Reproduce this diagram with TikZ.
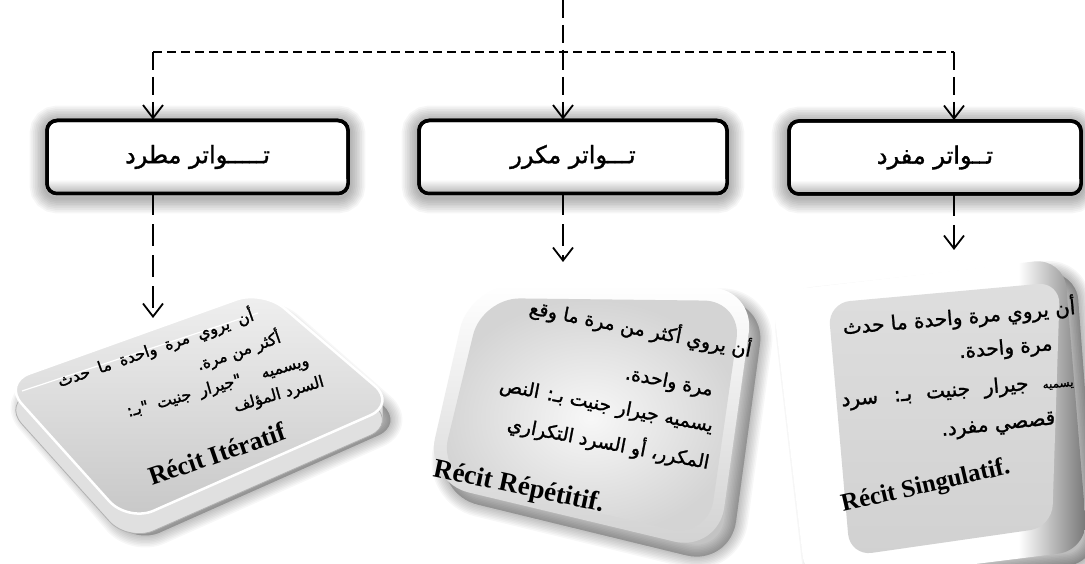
\documentclass[tikz,border=0pt]{standalone}
\usepackage{fontspec}
\setmainfont{Liberation Serif}
\newfontfamily\arabicfont[Script=Arabic]{DejaVu Sans}
\newfontfamily\arabicbold[Script=Arabic,FakeBold=1.4]{DejaVu Sans}
\TeXXeTstate=1
\usetikzlibrary{arrows.meta}
\newcommand\RL[1]{\beginR #1\endR}
\pgfdeclarehorizontalshading{bevelR}{100bp}{color(0bp)=(white); color(64bp)=(white); color(75bp)=(black!55); color(100bp)=(black!55)}
\newcommand\blurfill[3]{%
  \foreach \k in {1,...,8}{%
    \pgfmathsetmacro\lw{\k*3}%
    \filldraw[black,opacity=#2,line width=\lw pt,line join=round,rounded corners=#1] #3 -- cycle;}}
\tikzset{
  hbox/.style={draw=black, line width=3.5pt, rounded corners=10pt, fill=white,
    minimum height=73pt, inner sep=0pt, outer sep=0pt,
    font=\arabicbold\fontsize{24}{26}\selectfont},
  dashh/.style={line width=2pt, dash pattern=on 9pt off 5pt},
  dashv/.style={line width=2pt, dash pattern=on 18pt off 7pt},
  dashd/.style={line width=2pt, dash pattern=on 22pt off 9pt},
  tip/.style={-{Straight Barb[length=13pt,width=20pt,line width=1.8pt]}},
  artxt/.style={inner sep=0pt, font=\arabicbold\fontsize{#1}{#1}\selectfont},
  lattxt/.style={inner sep=0pt, font=\bfseries\fontsize{#1}{#1}\selectfont},
}
\begin{document}
\begin{tikzpicture}[x=1pt,y=-1pt]
\useasboundingbox (0,0) rectangle (1085,564);
\fill[white] (0,0) rectangle (1085,564);

% ---------- glow behind heading boxes
\foreach \xa/\ya/\xb/\yb in {45/121/350/198, 417/121/729/198, 787/122/1083/198}{
  \foreach \k in {1,...,9}{%
    \pgfmathsetmacro\lw{\k*3.4}%
    \draw[black, opacity=0.035, line width=\lw pt, rounded corners=12pt] (\xa,\ya) rectangle (\xb,\yb);}}

% ---------- heading boxes
\node[hbox, minimum width=301pt] (b1) at (197.5,157) {\RL{تـــــواتر مطرد}};
\node[hbox, minimum width=308pt] (b2) at (573,157) {\RL{تـــواتر مكرر}};
\node[hbox, minimum width=292pt] (b3) at (935,157.5) {\RL{تــواتر مفرد}};
\foreach \b in {b1,b2,b3}{
  \begin{scope}
    \clip[rounded corners=10pt] (\b.south west) rectangle (\b.north east);
    \shade[top color=white, bottom color=black!30] ([yshift=14pt]\b.south west) rectangle (\b.south east);
  \end{scope}
  \draw[line width=3.5pt, rounded corners=10pt] (\b.south west) rectangle (\b.north east);
}

% ---------- left card (tilted slab)
\blurfill{28pt}{0.03}{(10,400) -- (270,306) -- (404,424) -- (134,544)}
\foreach \d in {20,18,...,2}{
  \fill[black!12, rounded corners=28pt] (3,{383+\d}) -- (263,{290+\d}) -- (396,{404+\d}) -- (128,{522+\d}) -- cycle;}
\draw[black!30, line width=0.8pt, rounded corners=28pt] (3,403) -- (263,310) -- (396,424) -- (128,542) -- cycle;
\shade[rounded corners=28pt, top color=black!6, bottom color=black!22, draw=white, line width=2.5pt]
  (3,383) -- (263,290) -- (396,404) -- (128,522) -- cycle;
\draw[white, line width=1.2pt] (22,391) -- (258,313);

% ---------- middle card
\blurfill{45pt}{0.03}{(482,302) -- (766,300) -- (730,566) -- (434,494)}
\shade[rounded corners=45pt, top color=white, bottom color=black!18] (470,285) -- (755,288) -- (718,552) -- (425,482) -- cycle;
\shade[rounded corners=38pt, inner color=black!3, outer color=black!17] (482,298) -- (742,301) -- (708,538) -- (439,476) -- cycle;

% ---------- right card
\blurfill{30pt}{0.035}{(784,302) -- (1076,270) -- (1098,562) -- (818,597)}
\shade[shading=bevelR, rounded corners=30pt] (772,292) -- (1064,258) -- (1088,550) -- (806,585) -- cycle;
\shade[rounded corners=22pt, top color=black!13, bottom color=black!18] (828,303) -- (1060,282) -- (1052,527) -- (850,556) -- cycle;

% ---------- connectors
\coordinate (top) at (563,0);
\coordinate (j) at (563,52);
\coordinate (jl) at (153,52);
\coordinate (jr) at (954,52);
\coordinate (t1) at (153,318);
\coordinate (t2) at (563,262);
\coordinate (t3) at (954,250);
\draw[dashv] (top) -- (j);
\draw[dashh] (jl) -- (jr);
\draw[dashv, tip] (jl) -- ([yshift=1pt]jl |- b1.north);
\draw[dashv, tip] (j) -- ([yshift=1pt]j |- b2.north);
\draw[dashv, tip] (jr) -- ([yshift=1pt]jr |- b3.north);
\draw[dashd, tip] (jl |- b1.south) -- (t1);
\draw[dashd, tip] (j |- b2.south) -- (t2);
\draw[dashd, tip] (jr |- b3.south) -- (t3);

% ---------- left card text
\node[artxt=16, anchor=base east, rotate=19] (l1) at (255,320) {\spaceskip=9pt\RL{أن يروي مرة واحدة ما حدث}};
\node[artxt=16, anchor=base east, rotate=19] (l2) at (282,342) {\RL{أكثر من مرة.}};
\node[artxt=16, anchor=base east, rotate=16] (l3) at (310,365) {\spaceskip=9pt\RL{ويسميه\hspace{12pt} "جيرار جنيت "بـ:}};
\node[artxt=16, anchor=base east, rotate=16] (l4) at (325,386) {\RL{السرد المؤلف}};
\node[lattxt=26, anchor=base west, rotate=19] (l5) at (152,486) {Récit Itératif};

% ---------- middle card text
\node[artxt=19, anchor=base east, rotate=-11] (m1) at (750,357) {\RL{أن يروي أكثر من مرة ما وقع}};
\node[artxt=19, anchor=base east, rotate=-11] (m2) at (712,396) {\RL{مرة واحدة.}};
\node[artxt=19, anchor=base east, rotate=-11] (m3) at (712,432) {\RL{يسميه جيرار جنيت بـ: النص}};
\node[artxt=19, anchor=base east, rotate=-11] (m4) at (708,469) {\RL{المكرر، أو السرد التكراري}};
\node[lattxt=27, anchor=base west, rotate=-12] (m5) at (432,476) {Récit Répétitif.};

% ---------- right card text
\node[artxt=20, anchor=base east, rotate=5] (r1) at (1076,314) {\RL{أن يروي مرة واحدة ما حدث}};
\node[artxt=20, anchor=base east, rotate=5] (r2) at (1053,350) {\RL{مرة واحدة.}};
\node[artxt=20, anchor=base east, rotate=5] (r3) at (1074,386) {\spaceskip=14pt\RL{{\fontsize{12}{12}\selectfont يسميه} جيرار جنيت بـ: سرد}};
\node[artxt=20, anchor=base east, rotate=6] (r4) at (1056,424) {\RL{قصصي مفرد.}};
\node[lattxt=25, anchor=base west, rotate=13] (r5) at (843,512) {Récit Singulatif.};
\end{tikzpicture}
\end{document}
